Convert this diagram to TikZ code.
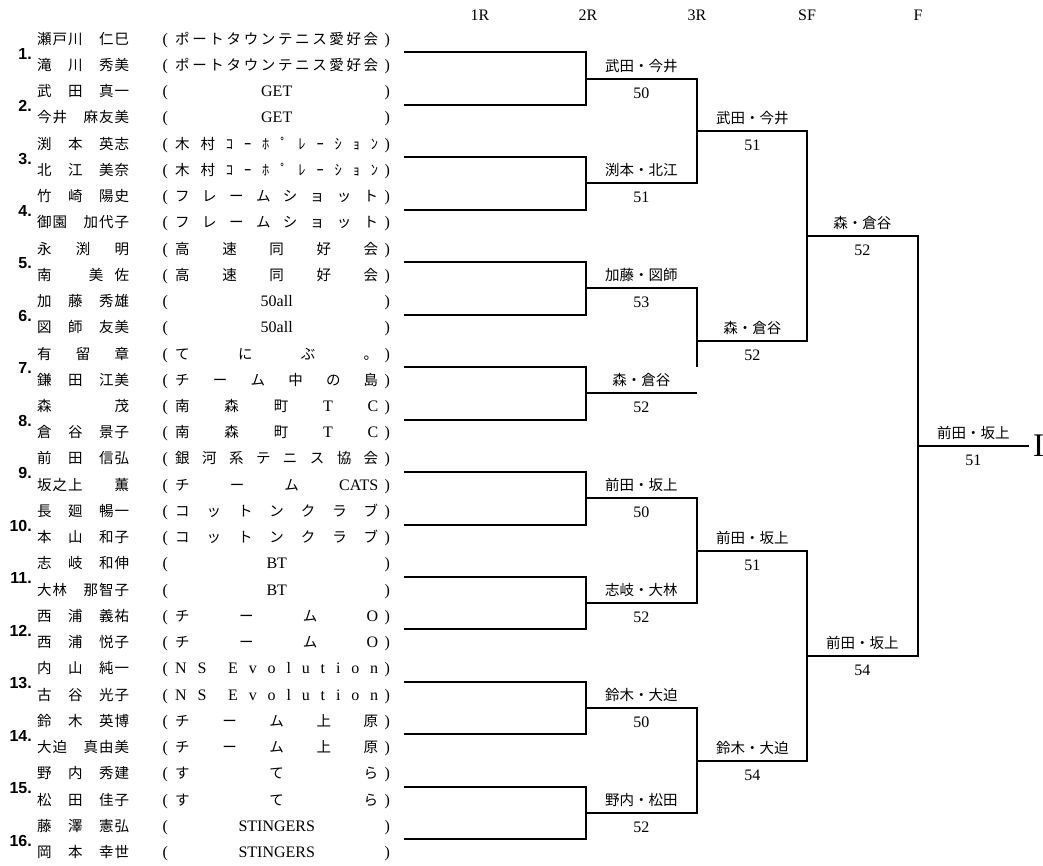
\documentclass[tikz,border=0pt]{standalone}
\usepackage{fontspec}
\setmainfont{Liberation Serif}
\newfontfamily\jpfont{Noto Sans CJK JP}
\newfontfamily\numfont{Liberation Sans}
\usepackage{tikz}
\usetikzlibrary{positioning}

\newcommand\jn{\jpfont\fontsize{14.5}{14.5}\selectfont}
\newcommand\lat{\rmfamily\fontsize{16}{16}\selectfont}
\makeatletter
\newcommand\dist[1]{\let\dist@gap\relax\@tfor\dist@item:=#1\do{\dist@gap{\dist@item}\let\dist@gap\hfil}}
\makeatother
\newcommand\centred[1]{\hfil{\lat #1}\hfil}
\newcommand\player[2]{\makebox[92pt][s]{\jn\dist{#1}}\hspace{33.5pt}(\hspace{7.2pt}\makebox[203pt][s]{\jn #2}\hspace{6.5pt})}

\begin{document}
\begin{tikzpicture}[x=1pt, y=-1pt,
  entry/.style={anchor=west, inner sep=0pt, text height=10pt, text depth=0pt, font=\lat},
  num/.style={anchor=east, inner sep=0pt, text height=11.5pt, text depth=0pt, font=\numfont\bfseries\fontsize{16}{16}\selectfont},
  head/.style={inner sep=0pt, text height=10.6pt, text depth=0pt, font=\lat},
  win/.style={anchor=south west, minimum width=110.5pt, inner xsep=0pt, inner ysep=7.5pt, text height=10pt, text depth=0pt, font=\jpfont\fontsize{14.5}{14.5}\selectfont},
  score/.style={inner sep=0pt, text height=10.8pt, text depth=0pt, font=\lat},
  champ/.style={inner sep=0pt, text height=21.8pt, text depth=0pt, font=\rmfamily\fontsize{33}{33}\selectfont},
  bracket/.style={line width=2pt}
]
  \useasboundingbox (0,0) rectangle (1043,865);

  % Round headers
  \node[head] (h1) at (480,15) {1R};
  \node[head] (h2) at (588,15) {2R};
  \node[head] (h3) at (697,15) {3R};
  \node[head] (h4) at (807,15) {SF};
  \node[head] (h5) at (918,15) {F};

  % Players (Left)
  \node[entry] (r1) at (37,39.20) {\player{瀬戸川　仁巳}{\dist{ポートタウンテニス愛好会}}};
  \node[entry] (r2) at (37,65.43) {\player{滝　川　秀美}{\dist{ポートタウンテニス愛好会}}};
  \node[entry] (r3) at (37,91.67) {\player{武　田　真一}{\centred{GET}}};
  \node[entry] (r4) at (37,117.90) {\player{今井　麻友美}{\centred{GET}}};
  \node[entry] (r5) at (37,144.14) {\player{渕　本　英志}{\dist{木村ｺｰﾎﾟﾚｰｼｮﾝ}}};
  \node[entry] (r6) at (37,170.37) {\player{北　江　美奈}{\dist{木村ｺｰﾎﾟﾚｰｼｮﾝ}}};
  \node[entry] (r7) at (37,196.60) {\player{竹　崎　陽史}{\dist{フレームショット}}};
  \node[entry] (r8) at (37,222.84) {\player{御園　加代子}{\dist{フレームショット}}};
  \node[entry] (r9) at (37,249.07) {\player{永渕明}{\dist{高速同好会}}};
  \node[entry] (r10) at (37,275.31) {\player{南　美佐}{\dist{高速同好会}}};
  \node[entry] (r11) at (37,301.54) {\player{加　藤　秀雄}{\centred{50all}}};
  \node[entry] (r12) at (37,327.77) {\player{図　師　友美}{\centred{50all}}};
  \node[entry] (r13) at (37,354.01) {\player{有留章}{\dist{てにぶ。}}};
  \node[entry] (r14) at (37,380.24) {\player{鎌　田　江美}{\dist{チーム中の島}}};
  \node[entry] (r15) at (37,406.48) {\player{森茂}{\dist{南森町{\lat T}{\lat C}}}};
  \node[entry] (r16) at (37,432.71) {\player{倉　谷　景子}{\dist{南森町{\lat T}{\lat C}}}};
  \node[entry] (r17) at (37,458.94) {\player{前　田　信弘}{\dist{銀河系テニス協会}}};
  \node[entry] (r18) at (37,485.18) {\player{坂之上　　薫}{\dist{チーム{\lat CATS}}}};
  \node[entry] (r19) at (37,511.41) {\player{長　廻　暢一}{\dist{コットンクラブ}}};
  \node[entry] (r20) at (37,537.65) {\player{本　山　和子}{\dist{コットンクラブ}}};
  \node[entry] (r21) at (37,563.88) {\player{志　岐　和伸}{\centred{BT}}};
  \node[entry] (r22) at (37,590.11) {\player{大林　那智子}{\centred{BT}}};
  \node[entry] (r23) at (37,616.35) {\player{西　浦　義祐}{\dist{チーム{\lat O}}}};
  \node[entry] (r24) at (37,642.58) {\player{西　浦　悦子}{\dist{チーム{\lat O}}}};
  \node[entry] (r25) at (37,668.82) {\player{内　山　純一}{{\lat\dist{NS{}Evolution}}}};
  \node[entry] (r26) at (37,695.05) {\player{古　谷　光子}{{\lat\dist{NS{}Evolution}}}};
  \node[entry] (r27) at (37,721.28) {\player{鈴　木　英博}{\dist{チーム上原}}};
  \node[entry] (r28) at (37,747.52) {\player{大迫　真由美}{\dist{チーム上原}}};
  \node[entry] (r29) at (37,773.75) {\player{野　内　秀建}{\dist{すてら}}};
  \node[entry] (r30) at (37,799.99) {\player{松　田　佳子}{\dist{すてら}}};
  \node[entry] (r31) at (37,826.22) {\player{藤　澤　憲弘}{\centred{STINGERS}}};
  \node[entry] (r32) at (37,852.45) {\player{岡　本　幸世}{\centred{STINGERS}}};

  % Pair numbers
  \node[num] (n1) at (32,53.30) {1.};
  \node[num] (n2) at (32,105.79) {2.};
  \node[num] (n3) at (32,158.26) {3.};
  \node[num] (n4) at (32,210.72) {4.};
  \node[num] (n5) at (32,263.19) {5.};
  \node[num] (n6) at (32,315.66) {6.};
  \node[num] (n7) at (32,368.13) {7.};
  \node[num] (n8) at (32,420.59) {8.};
  \node[num] (n9) at (32,473.06) {9.};
  \node[num] (n10) at (32,525.53) {10.};
  \node[num] (n11) at (32,578.00) {11.};
  \node[num] (n12) at (32,630.47) {12.};
  \node[num] (n13) at (32,682.93) {13.};
  \node[num] (n14) at (32,735.40) {14.};
  \node[num] (n15) at (32,787.87) {15.};
  \node[num] (n16) at (32,840.34) {16.};

  % Line starts of the pairs
  \coordinate (e1) at (404,52);
  \coordinate (e2) at (404,105);
  \coordinate (e3) at (404,157);
  \coordinate (e4) at (404,210);
  \coordinate (e5) at (404,262);
  \coordinate (e6) at (404,315);
  \coordinate (e7) at (404,367);
  \coordinate (e8) at (404,420);
  \coordinate (e9) at (404,472);
  \coordinate (e10) at (404,525);
  \coordinate (e11) at (404,577);
  \coordinate (e12) at (404,629);
  \coordinate (e13) at (404,682);
  \coordinate (e14) at (404,734);
  \coordinate (e15) at (404,787);
  \coordinate (e16) at (404,839);

  % Winners 2R
  \node[win] (w1) at (586,79) {武田・今井};
  \node[win] (w2) at (586,183) {渕本・北江};
  \node[win] (w3) at (586,288) {加藤・図師};
  \node[win] (w4) at (586,393) {森・倉谷};
  \node[win] (w5) at (586,498) {前田・坂上};
  \node[win] (w6) at (586,603) {志岐・大林};
  \node[win] (w7) at (586,708) {鈴木・大迫};
  \node[win] (w8) at (586,813) {野内・松田};
  % Winners 3R, SF, F
  \node[win] (w9) at (697,131) {武田・今井};
  \node[win] (w10) at (697,341) {森・倉谷};
  \node[win] (w11) at (697,551) {前田・坂上};
  \node[win] (w12) at (697,761) {鈴木・大迫};
  \node[win] (w13) at (807,236) {森・倉谷};
  \node[win] (w14) at (807,656) {前田・坂上};
  \node[win] (w15) at (918,446) {前田・坂上};
  \node[champ, right=4pt of w15.south east] (fin) {I};

  % Scores
  \node[score, below=8.5pt of w1.south] (s1) {50};
  \node[score, below=8.5pt of w2.south] (s2) {51};
  \node[score, below=8.5pt of w3.south] (s3) {53};
  \node[score, below=8.5pt of w4.south] (s4) {52};
  \node[score, below=8.5pt of w5.south] (s5) {50};
  \node[score, below=8.5pt of w6.south] (s6) {52};
  \node[score, below=8.5pt of w7.south] (s7) {50};
  \node[score, below=8.5pt of w8.south] (s8) {52};
  \node[score, below=8.5pt of w9.south] (s9) {51};
  \node[score, below=8.5pt of w10.south] (s10) {52};
  \node[score, below=8.5pt of w11.south] (s11) {51};
  \node[score, below=8.5pt of w12.south] (s12) {54};
  \node[score, below=8.5pt of w13.south] (s13) {52};
  \node[score, below=8.5pt of w14.south] (s14) {54};
  \node[score, below=8.5pt of w15.south] (s15) {51};

  % 1R
  \draw[bracket] (e1) -| (w1.south west) |- (e2);
  \draw[bracket] (e3) -| (w2.south west) |- (e4);
  \draw[bracket] (e5) -| (w3.south west) |- (e6);
  \draw[bracket] (e7) -| (w4.south west) |- (e8);
  \draw[bracket] (e9) -| (w5.south west) |- (e10);
  \draw[bracket] (e11) -| (w6.south west) |- (e12);
  \draw[bracket] (e13) -| (w7.south west) |- (e14);
  \draw[bracket] (e15) -| (w8.south west) |- (e16);

  % 2R
  \draw[bracket] (w1.south west) -| (w9.south west) |- (w2.south west);
  \draw[bracket] (w3.south west) -| (w10.south west) -- (w10.south west |- e7);
  \draw[bracket] (w4.south west) -- (w4.south east);
  \draw[bracket] (w5.south west) -| (w11.south west) |- (w6.south west);
  \draw[bracket] (w7.south west) -| (w12.south west) |- (w8.south west);

  % 3R, SF, F
  \draw[bracket] (w9.south west) -| (w13.south west) |- (w10.south west);
  \draw[bracket] (w11.south west) -| (w14.south west) |- (w12.south west);
  \draw[bracket] (w13.south west) -| (w15.south west) |- (w14.south west);
  \draw[bracket] (w15.south west) -- (w15.south east);

\end{tikzpicture}
\end{document}
